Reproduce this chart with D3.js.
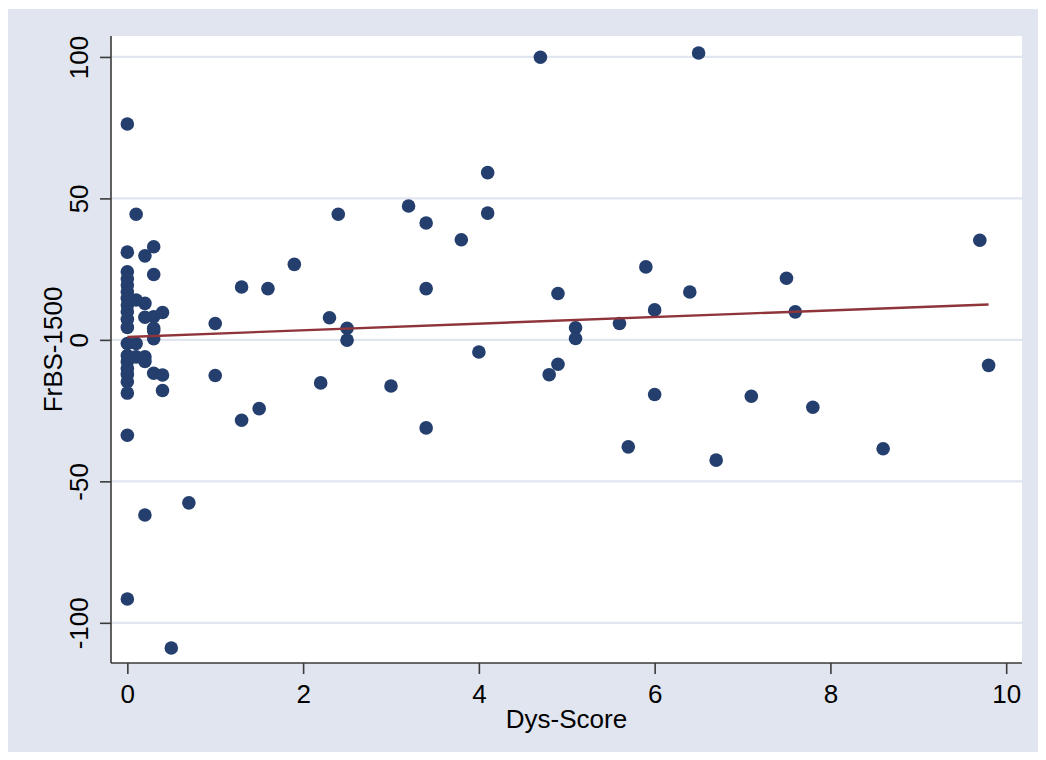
<!DOCTYPE html>
<html>
<head>
<meta charset="utf-8">
<script src="https://cdn.jsdelivr.net/npm/d3@7/dist/d3.min.js"></script>
<style>
  html, body { margin: 0; padding: 0; background: #ffffff; }
  svg { display: block; }
  text { font-family: "Liberation Sans", Arial, sans-serif; fill: #000; }
</style>
</head>
<body>
<svg id="chart" width="1046" height="760"></svg>
<script>
// Dys-Score (x) against FrBS-1500 (y), one entry per subject
const dysScore = [
  0, 0, 0, 0, 0, 0, 0, 0, 0, 0, 0, 0, 0, 0, 0, 0, 0, 0, 0, 0,
  0.1, 0.1, 0.1, 0.1,
  0.2, 0.2, 0.2, 0.2, 0.2, 0.2,
  0.3, 0.3, 0.3, 0.3, 0.3, 0.3, 0.3,
  0.4, 0.4, 0.4,
  0.5, 0.7,
  1.0, 1.0, 1.3, 1.3, 1.5, 1.6, 1.9,
  2.2, 2.3, 2.4, 2.5, 2.5,
  3.0, 3.2, 3.4, 3.4, 3.4, 3.8,
  4.0, 4.1, 4.1, 4.7, 4.8, 4.9, 4.9,
  5.1, 5.1, 5.6, 5.7, 5.9,
  6.0, 6.0, 6.4, 6.5, 6.7,
  7.1, 7.5, 7.6, 7.8, 8.6, 9.7, 9.8
];
const frbs1500 = [
  76.3, 31.0, 24.1, 21.6, 19.4, 17.0, 14.7, 12.3, 9.9, 7.3, 4.4, -1.3, -5.5, -7.7, -10.1, -12.2, -14.8, -18.8, -33.7, -91.6,
  44.4, 14.1, -1.3, -6.0,
  29.7, 12.9, 8.0, -6.0, -7.6, -61.9,
  32.9, 23.1, 8.2, 4.1, 3.2, 0.4, -11.8,
  9.7, -12.4, -17.9,
  -108.9, -57.6,
  5.8, -12.6, 18.7, -28.4, -24.3, 18.1, 26.7,
  -15.2, 7.8, 44.4, 4.1, -0.1,
  -16.3, 47.3, 41.3, 18.1, -31.1, 35.4,
  -4.3, 59.1, 44.8, 99.9, -12.3, 16.4, -8.6,
  4.3, 0.5, 5.8, -37.8, 25.8,
  10.6, -19.3, 16.9, 101.4, -42.5,
  -19.9, 21.8, 9.9, -23.8, -38.5, 35.2, -9.0
];
const xTicks = [0, 2, 4, 6, 8, 10];
const yTicks = [-100, -50, 0, 50, 100];
const xTitle = "Dys-Score";
const yTitle = "FrBS-1500";

const points = dysScore.map((x, i) => ({ x, y: frbs1500[i] }));

// Linear fit (ordinary least squares), drawn across the observed x range
const mx = d3.mean(points, d => d.x);
const my = d3.mean(points, d => d.y);
const sxy = d3.sum(points, d => (d.x - mx) * (d.y - my));
const sxx = d3.sum(points, d => (d.x - mx) * (d.x - mx));
const slope = sxy / sxx;
const intercept = my - slope * mx;
const [xMin, xMax] = d3.extent(dysScore);
const fit = [xMin, xMax].map(x => ({ x, y: intercept + slope * x }));

const svg = d3.select("#chart");

// Outer graph region
svg.append("rect").attr("x", 8).attr("y", 9).attr("width", 1030).attr("height", 743)
  .attr("fill", "#e1e5ef");

const plot = { left: 111, right: 1022, top: 36, bottom: 663 };

const x = d3.scaleLinear().domain([-0.186, 10.18]).range([plot.left, plot.right]);
const y = d3.scaleLinear().domain([-114.2, 107.4]).range([plot.bottom, plot.top]);

// Tick labels use a plain hyphen for negatives
const plainFormat = d => String(d);

// Plot region
svg.append("rect")
  .attr("x", plot.left).attr("y", plot.top)
  .attr("width", plot.right - plot.left).attr("height", plot.bottom - plot.top)
  .attr("fill", "#ffffff");

// Horizontal grid lines
svg.append("g").selectAll("line").data(yTicks).join("line")
  .attr("x1", plot.left).attr("x2", plot.right)
  .attr("y1", d => y(d)).attr("y2", d => y(d))
  .attr("stroke", "#e1e5ef").attr("stroke-width", 2.2);

// Y axis
const yAxis = svg.append("g").attr("transform", `translate(${plot.left},0)`)
  .call(d3.axisLeft(y).tickValues(yTicks).tickSize(11).tickPadding(0).tickFormat(plainFormat));
yAxis.select(".domain").attr("stroke", "#3a3a3a").attr("stroke-width", 1.6)
  .attr("d", `M0,${plot.top}V${plot.bottom}`);
yAxis.selectAll(".tick line").attr("stroke", "#3a3a3a").attr("stroke-width", 1.6);
yAxis.selectAll(".tick text")
  .attr("x", null).attr("dy", null)
  .attr("text-anchor", "middle")
  .attr("transform", "translate(-23,0) rotate(-90)")
  .style("font-size", "26px")
  .style("font-family", "'Liberation Sans', Arial, sans-serif")
  .attr("fill", "#000");

// X axis
const xAxis = svg.append("g").attr("transform", `translate(0,${plot.bottom})`)
  .call(d3.axisBottom(x).tickValues(xTicks).tickSize(11).tickPadding(0).tickFormat(plainFormat));
xAxis.select(".domain").attr("stroke", "#3a3a3a").attr("stroke-width", 1.6)
  .attr("d", `M${plot.left},0H${plot.right}`);
xAxis.selectAll(".tick line").attr("stroke", "#3a3a3a").attr("stroke-width", 1.6);
xAxis.selectAll(".tick text")
  .attr("y", 40).attr("dy", null)
  .style("font-size", "26px")
  .style("font-family", "'Liberation Sans', Arial, sans-serif")
  .attr("fill", "#000");

// Scatter markers
svg.append("g").selectAll("circle").data(points).join("circle")
  .attr("cx", d => x(d.x)).attr("cy", d => y(d.y)).attr("r", 6.8)
  .attr("fill", "#243f6e");

// Fitted line
svg.append("path").datum(fit)
  .attr("d", d3.line().x(d => x(d.x)).y(d => y(d.y)))
  .attr("fill", "none").attr("stroke", "#8e343a").attr("stroke-width", 2.4);

// Axis titles
svg.append("text")
  .attr("x", (plot.left + plot.right) / 2).attr("y", 728)
  .attr("text-anchor", "middle").style("font-size", "26px")
  .text(xTitle);
svg.append("text")
  .attr("transform", `translate(62,${(plot.top + plot.bottom) / 2}) rotate(-90)`)
  .attr("text-anchor", "middle").style("font-size", "26px")
  .text(yTitle);
</script>
</body>
</html>
